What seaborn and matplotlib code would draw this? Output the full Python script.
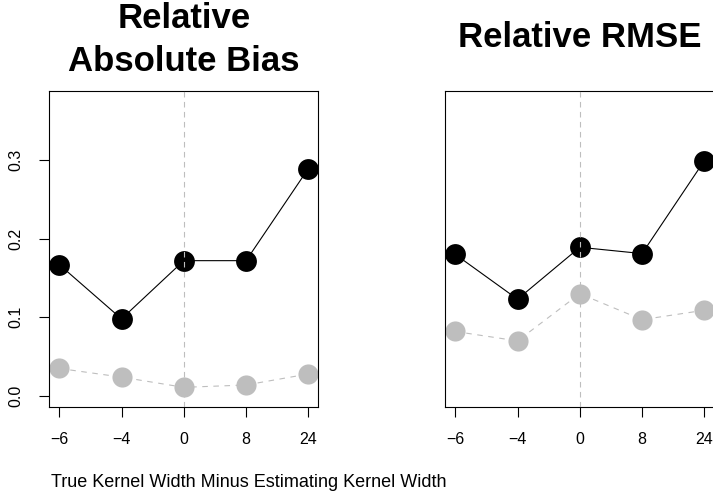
import matplotlib
matplotlib.use("Agg")
import matplotlib.pyplot as plt
import numpy as np
import pandas as pd
import seaborn as sns

# Kernel width offsets (true minus estimating), shown as ordered categories
width_diff = ["\u22126", "\u22124", "0", "8", "24"]

# Relative absolute bias
bias_main = [0.167, 0.098, 0.172, 0.172, 0.289]
bias_ref = [0.035, 0.024, 0.011, 0.014, 0.028]

# Relative RMSE
rmse_main = [0.180, 0.123, 0.189, 0.181, 0.299]
rmse_ref = [0.082, 0.070, 0.130, 0.097, 0.109]

y_ticks = [0.0, 0.1, 0.2, 0.3]
y_tick_labels = ["0.0", "0.1", "0.2", "0.3"]

sns.set_theme(style="white")
plt.rcParams["font.family"] = ["Liberation Sans", "DejaVu Sans"]
plt.rcParams["text.color"] = "black"
plt.rcParams["xtick.color"] = "black"
plt.rcParams["ytick.color"] = "black"
plt.rcParams["xtick.labelcolor"] = "black"
plt.rcParams["ytick.labelcolor"] = "black"

W, H = 713, 493
fig = plt.figure(figsize=(W / 100, H / 100), dpi=100)
fig.patch.set_facecolor("white")

# panel geometry in pixels: left, top, right, bottom
ax_l = fig.add_axes([49.3 / W, 1 - 406.7 / H, (318.3 - 49.3) / W, (406.7 - 90.7) / H])
ax_r = fig.add_axes([445.3 / W, 1 - 406.7 / H, (318.3 - 49.3) / W, (406.7 - 90.7) / H])

pos = np.arange(len(width_diff))
GRAY = "#bebebe"
TICK_FONT = 11.5


def draw_panel(ax, main, ref):
    df = pd.DataFrame({"pos": pos, "main": main, "ref": ref})
    sns.lineplot(data=df, x="pos", y="ref", ax=ax, color=GRAY, lw=0.8,
                 linestyle=(0, (5, 5)), marker="o", markersize=14.5,
                 markeredgewidth=0, markerfacecolor=GRAY, zorder=2)
    sns.lineplot(data=df, x="pos", y="main", ax=ax, color="black", lw=0.8,
                 marker="o", markersize=15, markeredgewidth=0,
                 markerfacecolor="black", zorder=3)
    # reference line at zero width difference
    ax.axvline(pos[width_diff.index("0")], color=GRAY, lw=0.8,
               linestyle=(0, (5, 4)), zorder=4)
    ax.set_xlim(-0.16, len(width_diff) - 1 + 0.16)
    ax.set_ylim(-0.0136, 0.388)
    ax.set_xticks(pos)
    ax.set_xticklabels(width_diff, fontsize=TICK_FONT, color="black")
    ax.set_xlabel("")
    ax.set_ylabel("")
    for s in ax.spines.values():
        s.set_visible(True)
        s.set_color("black")
        s.set_linewidth(0.8)
    ax.tick_params(axis="both", direction="out", length=7.5, width=0.8,
                   color="black", pad=11, bottom=True, left=True)
    ax.set_facecolor("white")


draw_panel(ax_l, bias_main, bias_ref)
draw_panel(ax_r, rmse_main, rmse_ref)

ax_l.set_yticks(y_ticks)
ax_l.set_yticklabels(y_tick_labels, fontsize=TICK_FONT, color="black")
for lab in ax_l.get_yticklabels():
    lab.set_rotation(90)
    lab.set_va("center")
    lab.set_ha("right")
ax_r.set_yticks([])

# panel titles
cx_l = (49.3 + 318.3) / 2 / W
cx_r = (445.3 + 714.3) / 2 / W
title_kw = dict(fontsize=25, fontweight="bold", ha="center", va="baseline",
                color="black")
fig.text(cx_l, 1 - 28 / H, "Relative", **title_kw)
fig.text(cx_l, 1 - 71 / H, "Absolute Bias", **title_kw)
fig.text(cx_r, 1 - 46.7 / H, "Relative RMSE", **title_kw)

# shared x-axis label
fig.text(248.5 / W, 1 - 487 / H, "True Kernel Width Minus Estimating Kernel Width",
         ha="center", va="baseline", fontsize=13, color="black")

fig.savefig("out.png", dpi=100, facecolor="white")
